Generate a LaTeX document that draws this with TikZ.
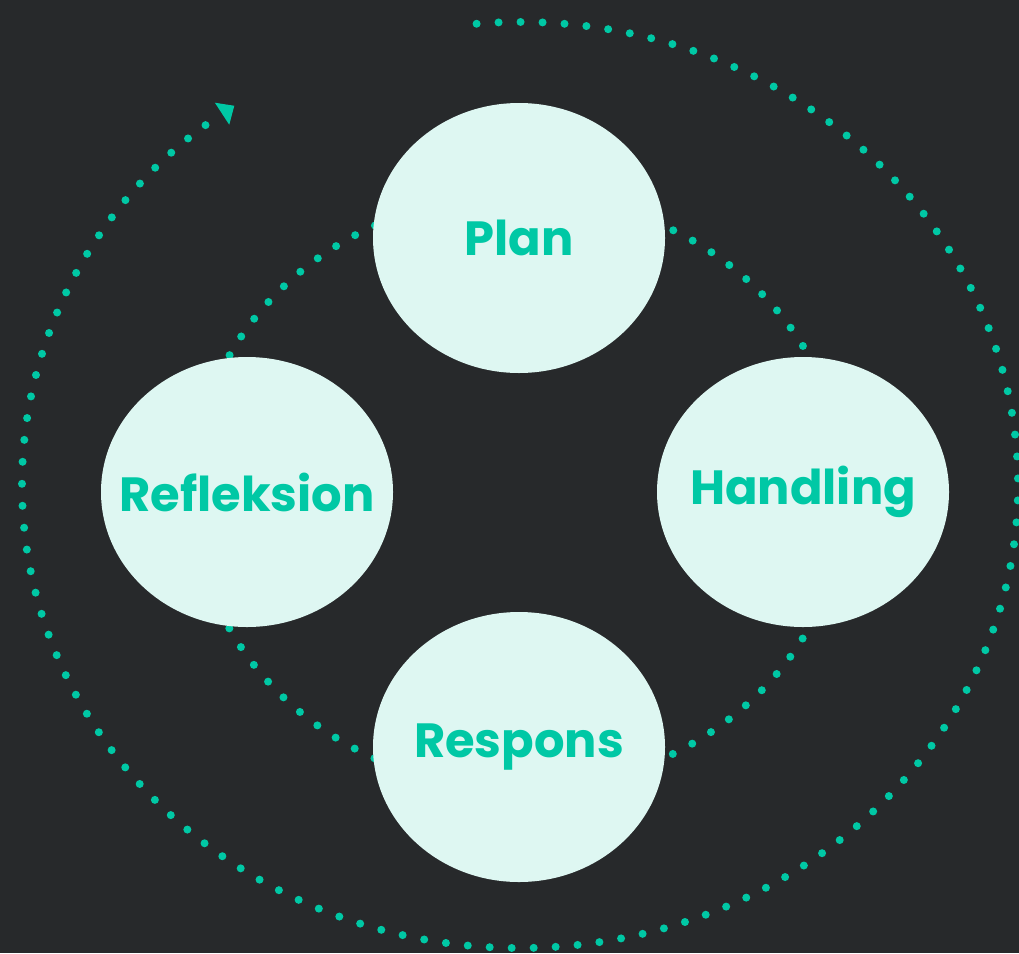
\documentclass[tikz,border=0pt]{standalone}
\usepackage{fontspec}
\setsansfont{Poppins}
\usetikzlibrary{shapes.geometric,arrows.meta}
\definecolor{board}{RGB}{39,41,43}
\definecolor{mint}{RGB}{222,247,242}
\definecolor{teal}{RGB}{0,200,165}

\begin{document}
\begin{tikzpicture}[x=0.75pt, y=0.75pt]
	\tikzstyle{stage} = [ellipse, fill=mint, inner sep=0pt, minimum width=219pt, minimum height=202.5pt, text=teal, font=\sffamily\bfseries\fontsize{36}{42}\selectfont]
	\tikzstyle{dots} = [draw=teal, line width=6pt, line cap=round, dash pattern=on 0pt off 16.5pt]
	\fill[board] (0,0) rectangle (1019,-953);
	\useasboundingbox (0,0) rectangle (1019,-953);
	
	\coordinate (mid) at (519,-492);
	\coordinate (outermid) at (520,-485);
	
	% inner cycle, under the stages
	\draw[dots] (mid) ellipse [x radius=326, y radius=297];
	
	\node[stage] (plan) at (519,-238) {\raisebox{-4pt}{\makebox[0pt]{Plan}}};
	\node[stage] (handling) at (803,-492) {\raisebox{-4pt}{\makebox[0pt]{Handling}}};
	\node[stage] (respons) at (519,-747) {\raisebox{-4pt}{\makebox[0pt]{Respons}}};
	\node[stage] (refleksion) at (247,-492) {\raisebox{-4pt}{\makebox[0pt]{Refleksion}}};
	
	% outer cycle with arrow
	\draw[dots, -{Triangle[width=19pt, length=11pt]}] ([shift={(95:498 and 463)}]outermid) arc[start angle=95, end angle=-235, x radius=498, y radius=463];
	
\end{tikzpicture}
\end{document}
